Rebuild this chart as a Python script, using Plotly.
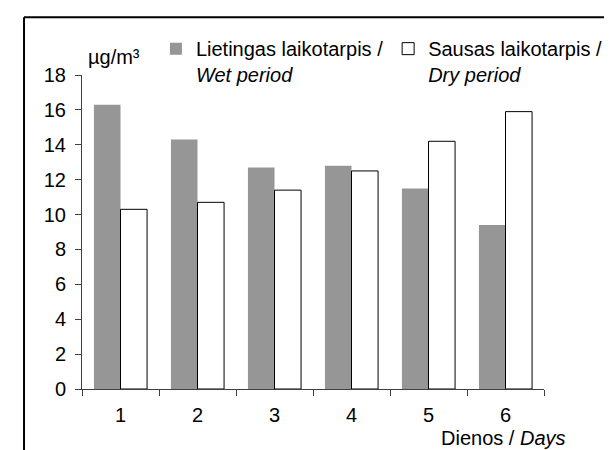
import plotly.graph_objects as go

days = ["1", "2", "3", "4", "5", "6"]
wet = [16.3, 14.3, 12.7, 12.8, 11.5, 9.4]
dry = [10.3, 10.7, 11.4, 12.5, 14.2, 15.9]

wet_name = "Lietingas laikotarpis /<br><i>Wet period</i>"
dry_name = "Sausas laikotarpis /<br><i>Dry period</i>"

FONT = "Liberation Sans, Arial, sans-serif"
AXIS_COLOR = "#404040"

fig = go.Figure()

fig.add_trace(go.Bar(
    x=days,
    y=wet,
    name=wet_name,
    marker=dict(color="#969696", line=dict(width=0)),
))

fig.add_trace(go.Bar(
    x=days,
    y=dry,
    name=dry_name,
    marker=dict(color="white", line=dict(color="black", width=1)),
))

# outer frame (left and top edges only are visible in the crop)
fig.add_shape(type="line", xref="paper", yref="paper",
              x0=-0.1255, x1=-0.1255, y0=-0.4, y1=1.1836,
              line=dict(color="black", width=2))
fig.add_shape(type="line", xref="paper", yref="paper",
              x0=-0.1255, x1=1.2, y0=1.1836, y1=1.1836,
              line=dict(color="black", width=2))

fig.add_annotation(
    text="\u00b5g/m\u00b3", xref="paper", yref="paper",
    x=0.008, y=1.056, xanchor="left", yanchor="middle",
    showarrow=False, font=dict(size=20, color="black", family=FONT),
)
fig.add_annotation(
    text="Dienos / <i>Days</i>", xref="paper", yref="paper",
    x=1.0514, y=-0.157, xanchor="right", yanchor="middle",
    showarrow=False, font=dict(size=20, color="black", family=FONT),
)

fig.update_layout(
    width=612,
    height=450,
    barmode="group",
    bargap=0.31,
    bargroupgap=0,
    paper_bgcolor="white",
    plot_bgcolor="white",
    font=dict(family=FONT, size=20, color="black"),
    margin=dict(l=74, r=52, t=67, b=69),
    xaxis=dict(
        type="category",
        showline=True,
        linecolor=AXIS_COLOR,
        linewidth=1,
        ticks="outside",
        tickson="boundaries",
        ticklen=6,
        tickcolor=AXIS_COLOR,
        ticklabelstandoff=8,
        showgrid=False,
        zeroline=False,
    ),
    yaxis=dict(
        range=[0, 18],
        dtick=2,
        showline=True,
        linecolor=AXIS_COLOR,
        linewidth=1,
        ticks="outside",
        ticklen=6,
        tickcolor=AXIS_COLOR,
        ticklabelstandoff=5,
        showgrid=False,
        zeroline=False,
    ),
    legend=dict(
        orientation="h",
        x=0.16,
        y=1.146,
        xanchor="left",
        yanchor="top",
        valign="top",
        bgcolor="rgba(0,0,0,0)",
        font=dict(size=20, family=FONT),
        traceorder="normal",
    ),
)

fig.write_html("out.html")
